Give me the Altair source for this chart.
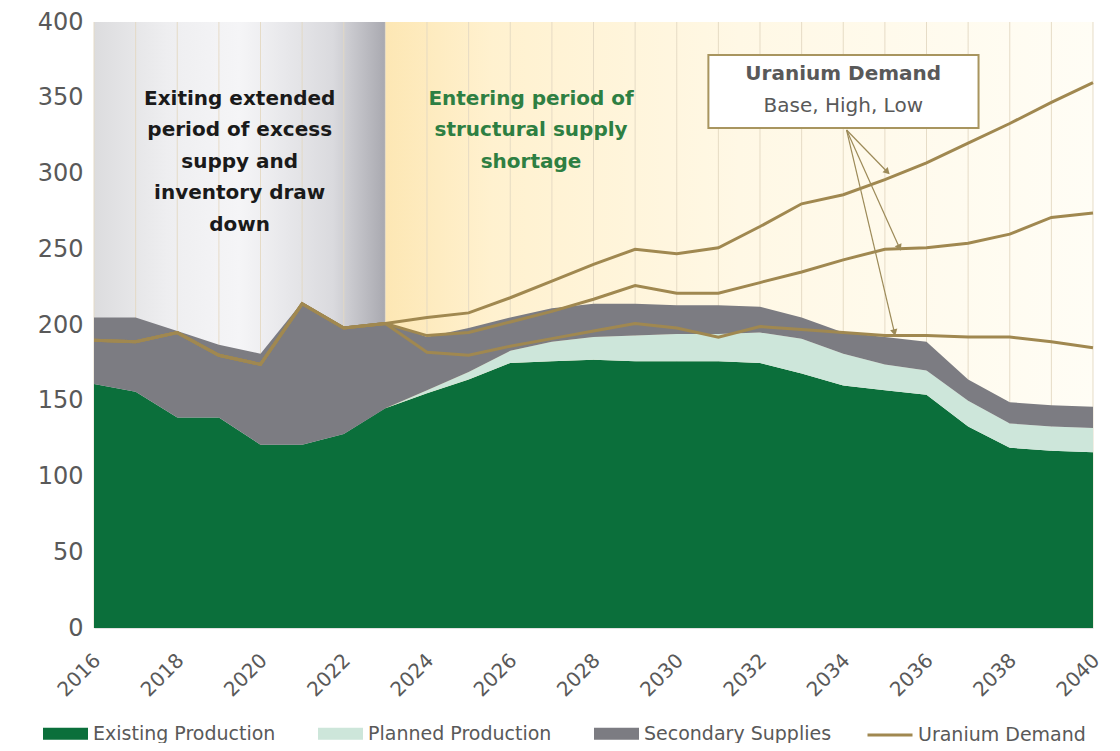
import altair as alt
import pandas as pd

# ---------------- data ----------------
years = list(range(2016, 2041))
existing = [161, 156, 139, 139, 121, 121, 128, 145, 155, 164, 175, 176, 177,
            176, 176, 176, 175, 168, 160, 157, 154, 133, 119, 117, 116]
planned = [0, 0, 0, 0, 0, 0, 0, 0, 2, 5, 8, 13, 15,
           17, 18, 18, 20, 23, 21, 17, 16, 17, 16, 16, 16]
secondary = [44, 49, 57, 48, 60, 94, 71, 57, 35, 29, 22, 22, 22,
             21, 19, 19, 17, 14, 14, 18, 19, 14, 14, 14, 14]

history = [190, 189, 195, 180, 174, 214, 198, 201]          # 2016-2023
high_future = [205, 208, 218, 229, 240, 250, 247, 251, 265, 280, 286, 296,
               307, 320, 333, 347, 360]                       # 2024-2040
base_future = [193, 195, 202, 209, 217, 226, 221, 221, 228, 235, 243, 250,
               251, 254, 260, 271, 274]
low_future = [182, 180, 186, 191, 196, 201, 198, 192, 199, 197, 195, 193,
              193, 192, 192, 189, 185]

series_names = ["Existing Production", "Planned Production", "Secondary Supplies"]
series_colors = ["#0b6f3b", "#cde6da", "#7c7c82"]
demand_label = "Uranium Demand"
demand_color = "#a08850"

y_ticks = [0, 50, 100, 150, 200, 250, 300, 350, 400]
x_ticks = list(range(2016, 2041, 2))

left_text = "Exiting extended\nperiod of excess\nsuppy and\ninventory draw\ndown"
right_text = "Entering period of\nstructural supply\nshortage"
box_title = "Uranium Demand"
box_sub = "Base, High, Low"

# ---------------- tables ----------------
area_rows = []
for k, (name, vals) in enumerate(zip(series_names, [existing, planned, secondary])):
    for yr, v in zip(years, vals):
        area_rows.append({"year": yr, "value": v, "series": name, "ord": k})
area_df = pd.DataFrame(area_rows)

dem_rows = []
for scen, fut in [("High", high_future), ("Base", base_future), ("Low", low_future)]:
    for yr, v in zip(years, history + fut):
        dem_rows.append({"year": yr, "value": v, "scenario": scen, "legend": demand_label})
dem_df = pd.DataFrame(dem_rows)

bg_df = pd.DataFrame({"x": [2016, 2023], "x2": [2023, 2040], "y": [400, 400], "y2": [0, 0],
                      "zone": ["past", "future"]})
grid_df = pd.DataFrame({"x": years, "y": [400] * len(years), "y2": [0] * len(years)})

FONT = "DejaVu Sans"
GREY = "#595959"

xs = alt.Scale(domain=[2016, 2040], nice=False, zero=False, padding=0)
ys = alt.Scale(domain=[0, 400], nice=False, zero=True)
x_axis = alt.Axis(values=x_ticks, labelAngle=-45, format="d", grid=False, ticks=False,
                  domain=True, domainColor="#e2e2e2", labelFontSize=20, labelColor=GREY,
                  labelFont=FONT, labelPadding=22, labelOffset=-4, title=None,
                  labelOverlap=False)
y_axis = alt.Axis(values=y_ticks, grid=False, ticks=False, domain=False, labelFontSize=24,
                  labelColor=GREY, labelFont=FONT, labelPadding=11, title=None)


def X(f):
    return alt.X(f, type="quantitative", scale=xs, axis=x_axis)


def Y(f):
    return alt.Y(f, type="quantitative", scale=ys, axis=y_axis)


gray_grad = alt.Gradient(gradient="linear", x1=0, x2=1, y1=0, y2=0, stops=[
    alt.GradientStop(color="#dcdcde", offset=0),
    alt.GradientStop(color="#eeeef0", offset=0.25),
    alt.GradientStop(color="#f5f5f7", offset=0.5),
    alt.GradientStop(color="#dadade", offset=0.82),
    alt.GradientStop(color="#a9a9b0", offset=1)])
yel_grad = alt.Gradient(gradient="linear", x1=0, x2=1, y1=0, y2=0, stops=[
    alt.GradientStop(color="#fde7b4", offset=0),
    alt.GradientStop(color="#fff1cf", offset=0.15),
    alt.GradientStop(color="#fff8e5", offset=0.5),
    alt.GradientStop(color="#fffdf5", offset=1)])

bg_past = alt.Chart(bg_df).transform_filter("datum.zone == 'past'").mark_rect(
    fill=gray_grad).encode(x=X("x"), x2="x2", y=Y("y"), y2="y2")
bg_future = alt.Chart(bg_df).transform_filter("datum.zone == 'future'").mark_rect(
    fill=yel_grad).encode(x=X("x"), x2="x2", y=Y("y"), y2="y2")

grid = alt.Chart(grid_df).mark_rule(color="#e3d8c2", strokeWidth=1, opacity=0.9).encode(
    x=X("x"), y=Y("y"), y2="y2")

areas = alt.Chart(area_df).mark_area(opacity=1).encode(
    x=X("year"),
    y=alt.Y("value", type="quantitative", stack="zero", scale=ys, axis=y_axis),
    color=alt.Color("series:N", scale=alt.Scale(domain=series_names, range=series_colors),
                    legend=alt.Legend(orient="none", legendX=-51, legendY=689,
                                      direction="horizontal", title=None,
                                      symbolType="M-1,-0.27H1V0.27H-1Z", symbolSize=2025,
                                      symbolStrokeWidth=0, symbolOpacity=1,
                                      labelFont=FONT, labelFontSize=19, labelColor=GREY,
                                      labelOffset=5, columnPadding=42, labelLimit=400)),
    order=alt.Order("ord:Q", sort="ascending"),
)

lines = alt.Chart(dem_df).mark_line(strokeWidth=3).encode(
    x=X("year"), y=Y("value"),
    detail="scenario:N",
    color=alt.Color("legend:N", scale=alt.Scale(domain=[demand_label], range=[demand_color]),
                    legend=alt.Legend(orient="none", legendX=772, legendY=689,
                                      direction="horizontal", title=None,
                                      symbolType="stroke", symbolSize=2025,
                                      symbolStrokeWidth=3, labelFont=FONT,
                                      labelFontSize=19, labelColor=GREY, labelOffset=4,
                                      labelLimit=400)),
)

# annotation box
box_df = pd.DataFrame({"x": [2030.76], "x2": [2037.25], "y": [378.2], "y2": [330.0]})
box_shadow = alt.Chart(box_df).mark_rect(fill="#c9c2b2", xOffset=3, yOffset=3, opacity=0.8).encode(
    x=X("x"), x2="x2", y=Y("y"), y2="y2")
box = alt.Chart(box_df).mark_rect(fill="white", stroke="#a8955f", strokeWidth=2).encode(
    x=X("x"), x2="x2", y=Y("y"), y2="y2")
box_txt_df = pd.DataFrame({"x": [2034.0, 2034.0], "y": [365.5, 344.5],
                           "t": [box_title, box_sub]})
box_t1 = alt.Chart(box_txt_df.iloc[[0]]).mark_text(
    font=FONT, fontSize=20, fontWeight="bold", color=GREY, baseline="middle").encode(
    x=X("x"), y=Y("y"), text="t:N")
box_t2 = alt.Chart(box_txt_df.iloc[[1]]).mark_text(
    font=FONT, fontSize=20, color=GREY, baseline="middle").encode(
    x=X("x"), y=Y("y"), text="t:N")

# arrows
arrow_df = pd.DataFrame({
    "x": [2034.08, 2034.08, 2034.08],
    "y": [328.7, 328.7, 328.7],
    "x2": [2035.06, 2035.35, 2035.23],
    "y2": [301.0, 251.0, 195.0],
    "ang": [315, 336, 347],
})
arrows = alt.Chart(arrow_df).mark_rule(color="#9c8a58", strokeWidth=1.2).encode(
    x=X("x"), y=Y("y"), x2="x2", y2="y2")
heads = alt.Chart(arrow_df).mark_point(shape="triangle-down", filled=True, size=55,
                                       color="#9c8a58", opacity=1).encode(
    x=X("x2"), y=Y("y2"), angle=alt.Angle("ang:Q", scale=None))

# period labels
lab_df = pd.DataFrame({"x": [2019.5, 2026.5], "y": [356, 356], "t": [left_text, right_text]})
lab_left = alt.Chart(lab_df.iloc[[0]]).mark_text(
    font=FONT, fontSize=20, fontWeight="bold", color="#1a1a1a", lineBreak="\n",
    lineHeight=31.5, baseline="top", align="center").encode(x=X("x"), y=Y("y"), text="t:N")
lab_right = alt.Chart(lab_df.iloc[[1]]).mark_text(
    font=FONT, fontSize=20, fontWeight="bold", color="#2e7f42", lineBreak="\n",
    lineHeight=31.5, baseline="top", align="center").encode(x=X("x"), y=Y("y"), text="t:N")

chart = alt.layer(
    bg_past, bg_future, grid, areas, lines, box_shadow, box, box_t1, box_t2,
    arrows, heads, lab_left, lab_right
).resolve_scale(color="independent").properties(
    width=999, height=606,
    padding={"left": 86, "top": 14, "right": 19, "bottom": 115},
    autosize=alt.AutoSizeParams(type="none"),
    background="white",
).configure_view(stroke=None)

chart.save("out.html", embed_options={"renderer": "svg", "actions": False})
